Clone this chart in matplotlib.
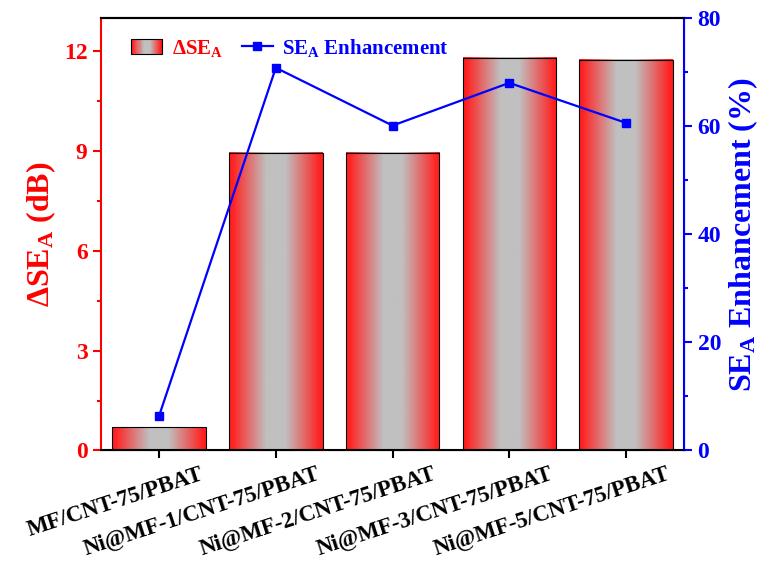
import numpy as np
import matplotlib
matplotlib.use("Agg")
import matplotlib.pyplot as plt
import matplotlib.transforms as mtransforms
from matplotlib.patches import Rectangle
from matplotlib.legend_handler import HandlerPatch
from matplotlib.colors import LinearSegmentedColormap

samples = ["MF/CNT-75/PBAT", "Ni@MF-1/CNT-75/PBAT", "Ni@MF-2/CNT-75/PBAT",
           "Ni@MF-3/CNT-75/PBAT", "Ni@MF-5/CNT-75/PBAT"]
delta_se = [0.69, 8.95, 8.95, 11.8, 11.75]
enhancement = [6.4, 70.8, 60.1, 68.0, 60.6]

plt.rcParams['font.family'] = ['Liberation Serif', 'DejaVu Serif']
plt.rcParams['font.weight'] = 'bold'
plt.rcParams['mathtext.default'] = 'regular'

# red at the edges, grey band in the middle
cmap = LinearSegmentedColormap.from_list(
    "rg", [(0, "#ff1c1c"), (0.04, "#ff2424"), (0.4, "#c0c0c0"), (0.6, "#c0c0c0"),
           (0.96, "#ff2424"), (1, "#ff1c1c")])
grad = np.linspace(0, 1, 256).reshape(1, -1)


class GradientHandler(HandlerPatch):
    def create_artists(self, legend, orig_handle, xdescent, ydescent,
                       width, height, fontsize, trans):
        arts = []
        n = 30
        for i in range(n):
            r = Rectangle((-xdescent + width * i / n, -ydescent), width / n + 0.3, height,
                          facecolor=cmap(i / (n - 1)), edgecolor='none', transform=trans)
            arts.append(r)
        arts.append(Rectangle((-xdescent, -ydescent), width, height, facecolor='none',
                              edgecolor='black', lw=0.8, transform=trans))
        return arts


fig, ax = plt.subplots(figsize=(7.75, 5.63), dpi=100)
fig.subplots_adjust(left=0.13, right=0.883, top=0.968, bottom=0.2)

x = np.arange(len(samples))
width = 0.8
bars = ax.bar(x, delta_se, width, facecolor='none', edgecolor='black', lw=0.8, zorder=3)
for b in bars:
    x0, y0 = b.get_x(), b.get_y()
    ax.imshow(grad, cmap=cmap, aspect='auto', zorder=2,
              extent=[x0, x0 + b.get_width(), y0, y0 + b.get_height()])
ax.set_xlim(-0.5, 4.5)
ax.set_ylim(0, 13)
ax.set_yticks([0, 3, 6, 9, 12])
ax.set_yticks([1.5, 4.5, 7.5, 10.5], minor=True)
ax.set_xticks(x)
ax.tick_params(axis='y', colors='red', labelsize=17, length=6, width=1.5)
ax.tick_params(axis='y', which='minor', colors='red', length=3, width=1.5)
ax.tick_params(axis='x', length=6, width=1.5)
ax.set_ylabel(r'$\Delta$SE$_A$ (dB)', color='red', fontsize=23, fontweight='bold')
ax.spines['left'].set_color('red')
ax.spines['left'].set_linewidth(1.5)
ax.spines['bottom'].set_linewidth(1.5)
ax.spines['top'].set_linewidth(1.5)

ax2 = ax.twinx()
line, = ax2.plot(x, enhancement, color='blue', marker='s', markersize=6, lw=1.6)
ax2.set_ylim(0, 80)
ax2.set_yticks([0, 20, 40, 60, 80])
ax2.set_yticks([10, 30, 50, 70], minor=True)
ax2.tick_params(axis='y', colors='blue', labelsize=17, length=6, width=1.5)
ax2.tick_params(axis='y', which='minor', colors='blue', length=3, width=1.5)
ax2.set_ylabel('SE$_A$ Enhancement (%)', color='blue', fontsize=23, fontweight='bold')
ax2.spines['right'].set_color('blue')
ax2.spines['right'].set_linewidth(1.5)
ax2.spines['left'].set_visible(False)
ax2.spines['top'].set_linewidth(1.5)

ax.set_xticklabels(samples, rotation=18, ha='right', rotation_mode='anchor', fontsize=16.5)
# labels in the reference hang to the right of their ticks
shift = mtransforms.ScaledTranslation(0.40, 0, fig.dpi_scale_trans)
for lab in ax.xaxis.get_majorticklabels():
    lab.set_transform(lab.get_transform() + shift)

proxy = Rectangle((0, 0), 1, 1)
leg = ax2.legend([proxy, line], [r'$\Delta$SE$_A$', 'SE$_A$ Enhancement'],
                 handler_map={Rectangle: GradientHandler()},
                 loc='upper left', ncol=2, frameon=False, fontsize=15,
                 bbox_to_anchor=(0.02, 1.0), handlelength=1.5, columnspacing=0.9,
                 handletextpad=0.45)
leg.get_texts()[0].set_color('red')
leg.get_texts()[1].set_color('blue')

fig.savefig("out.png", dpi=100)
